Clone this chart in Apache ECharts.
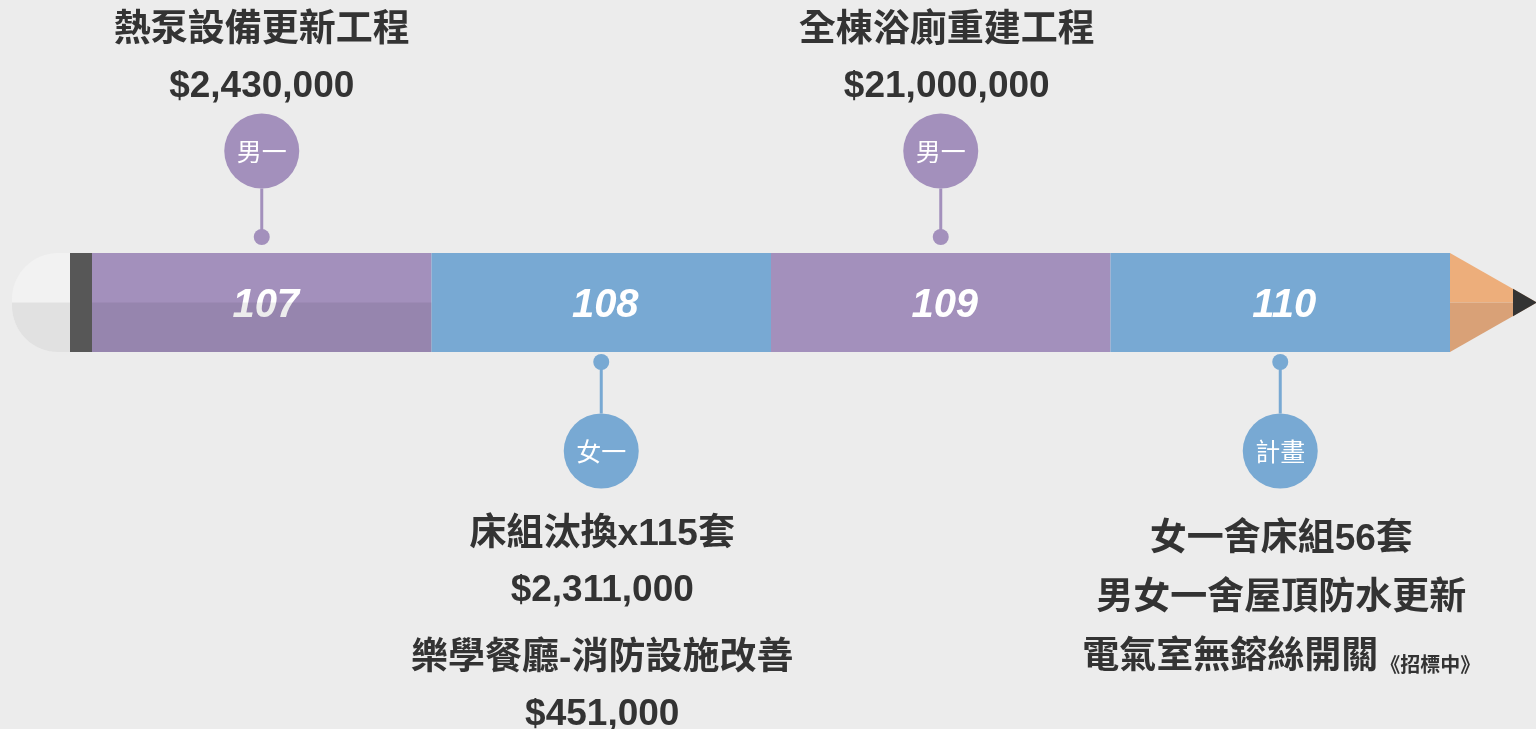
<!DOCTYPE html>
<html><head><meta charset="utf-8">
<script src="https://cdn.jsdelivr.net/npm/echarts@6/dist/echarts.min.js"></script>
<style>html,body{margin:0;padding:0;background:#ececec;} #c{width:1536px;height:729px;}</style>
</head><body><div id="c"></div>
<script>
// ---- data ----
const years = ['107', '108', '109', '110'];
const badges = ['男一', '女一', '男一', '計畫'];
const sides = ['top', 'bottom', 'top', 'bottom'];
const projectTitles = [
  ['熱泵設備更新工程'],
  ['床組汰換x115套', '樂學餐廳-消防設施改善'],
  ['全棟浴廁重建工程'],
  ['女一舍床組56套', '男女一舍屋頂防水更新', '電氣室無鎔絲開關']
];
const projectAmounts = [
  [2430000],
  [2311000, 451000],
  [21000000],
  [null, null, null]
];
const projectNotes = [
  [''],
  ['', ''],
  [''],
  ['', '', '《招標中》']
];

// ---- style ----
const PURPLE = '#a390bc', BLUE = '#78a9d3';
const segColors = [PURPLE, BLUE, PURPLE, BLUE];
const TXT = '#333333';
const TITLE_FONT = 'bold 37px "Liberation Sans", "Noto Sans CJK TC", sans-serif';
const AMT_FONT = 'bold 37px "Liberation Sans", Arial, sans-serif';
const fmt = v => '$' + v.toLocaleString('en-US');

function buildLines(i) {
  const lines = [];
  projectTitles[i].forEach((t, k) => {
    lines.push({ kind: 'title', text: t, note: projectNotes[i][k] });
    if (projectAmounts[i][k] != null) lines.push({ kind: 'amount', text: fmt(projectAmounts[i][k]) });
  });
  return lines;
}

function renderSegment(params, api) {
  const i = api.value(0);
  const a = api.coord([i, 1]), b = api.coord([i + 1, -1]);
  const cx = (a[0] + b[0]) / 2, cy = (a[1] + b[1]) / 2;
  const color = segColors[i];
  const children = [
    { type: 'rect', shape: { x: a[0], y: a[1], width: b[0] - a[0], height: b[1] - a[1] }, style: { fill: color } },
    { type: 'text', x: cx + 4, y: cy + 3, style: { text: years[i], fill: '#ffffff', font: 'italic bold 40px "Liberation Sans", Arial, sans-serif', align: 'center', verticalAlign: 'middle', shadowColor: 'rgba(0,0,0,0.15)', shadowBlur: 2, shadowOffsetY: 1 } }
  ];
  const R = 37.5;
  let dotY, circY, edgeY;
  if (sides[i] === 'top') { dotY = a[1] - 16; circY = a[1] - 102; edgeY = circY + R; }
  else { dotY = b[1] + 10; circY = b[1] + 99; edgeY = circY - R; }
  children.push(
    { type: 'line', shape: { x1: cx, y1: dotY, x2: cx, y2: edgeY }, style: { stroke: color, lineWidth: 3 } },
    { type: 'circle', shape: { cx: cx, cy: dotY, r: 8 }, style: { fill: color } },
    { type: 'circle', shape: { cx: cx, cy: circY, r: R }, style: { fill: color } },
    { type: 'text', x: cx, y: circY, style: { text: badges[i], fill: '#ffffff', font: '25px "Noto Sans CJK TC", sans-serif', align: 'center', verticalAlign: 'middle' } }
  );
  const lines = buildLines(i);
  const hasAmount = lines.some(l => l.kind === 'amount');
  let y = sides[i] === 'top' ? a[1] - 222 : b[1] + 183 + (hasAmount ? 0 : 5);
  const tx = sides[i] === 'top' ? cx + (i === 2 ? 6 : 0) : cx + 1;
  lines.forEach((ln, k) => {
    if (k > 0) {
      const prev = lines[k - 1].kind;
      if (prev === 'title' && ln.kind === 'amount') y += 56;
      else if (prev === 'amount') y += 68;
      else y += 59;
    }
    const st = { fill: TXT, font: ln.kind === 'title' ? TITLE_FONT : AMT_FONT, align: 'center', verticalAlign: 'middle' };
    if (ln.note) {
      st.text = ln.text + '{n|' + ln.note + '}';
      st.rich = { n: { fontSize: 20, fontWeight: 'bold', fontFamily: '"Noto Sans CJK TC", sans-serif', fill: TXT, padding: [12, 0, 0, 2] } };
    } else st.text = ln.text;
    children.push({ type: 'text', x: tx, y: y, style: st });
  });
  return { type: 'group', children };
}

function renderEnds(params, api) {
  const s = api.value(0), e = api.value(1);
  const a = api.coord([s, 1]), b = api.coord([e, -1]);
  const top = a[1], bot = b[1], mid = (top + bot) / 2, h = bot - top;
  const x0 = a[0], x4 = b[0];
  const x1 = api.coord([s + 1, 0])[0];
  const eraserW = 58, ferruleW = 22, tipW = 87, leadW = 24;
  const ex = x0 - ferruleW - eraserW;
  const lead = leadW / tipW * (h / 2);
  return { type: 'group', children: [
    { type: 'rect', shape: { x: ex, y: top, width: eraserW, height: h, r: [46, 0, 0, 46] }, style: { fill: '#f2f2f2' } },
    { type: 'rect', shape: { x: ex, y: mid, width: eraserW, height: h / 2, r: [0, 0, 0, 46] }, style: { fill: '#e1e1e1' } },
    { type: 'rect', shape: { x: x0, y: mid, width: x1 - x0, height: h / 2 }, style: { fill: 'rgba(0,0,0,0.075)' } },
    { type: 'rect', shape: { x: x0 - ferruleW, y: top, width: ferruleW, height: h }, style: { fill: '#575757' } },
    { type: 'polygon', shape: { points: [[x4, top], [x4, mid], [x4 + tipW, mid]] }, style: { fill: '#edae7b' } },
    { type: 'polygon', shape: { points: [[x4, mid], [x4, bot], [x4 + tipW, mid]] }, style: { fill: '#d9a177' } },
    { type: 'polygon', shape: { points: [[x4 + tipW - leadW, mid - lead], [x4 + tipW, mid], [x4 + tipW - leadW, mid + lead]] }, style: { fill: '#333333' } }
  ] };
}

const chart = echarts.init(document.getElementById('c'), null, { renderer: 'canvas' });
chart.setOption({
  backgroundColor: '#ececec',
  animation: false,
  grid: { left: 92, right: 86, top: 253, bottom: 377 },
  xAxis: { type: 'value', min: 0, max: years.length, show: false },
  yAxis: { type: 'value', min: -1, max: 1, show: false },
  series: [
    { type: 'custom', clip: false, z: 2, renderItem: renderSegment, data: years.map((y, i) => [i]) },
    { type: 'custom', clip: false, z: 3, renderItem: renderEnds, data: [[0, years.length]] }
  ]
});
</script>
</body></html>
